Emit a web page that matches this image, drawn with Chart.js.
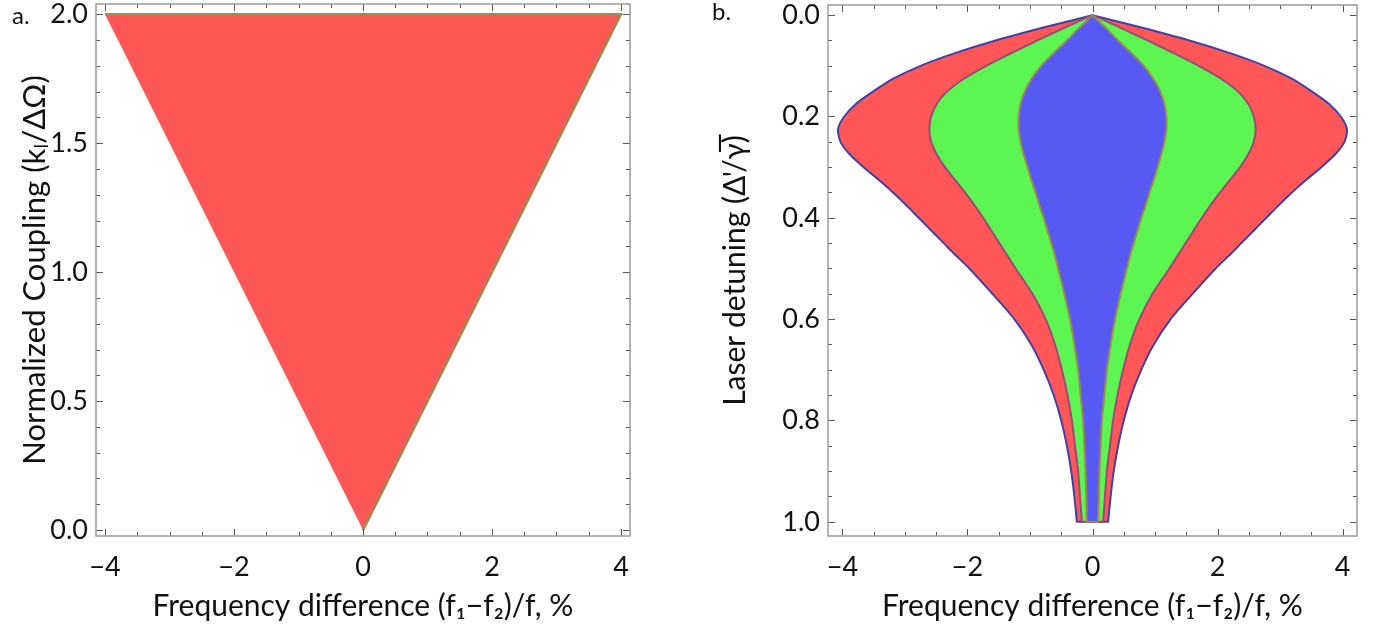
<!DOCTYPE html>
<html>
<head>
<meta charset="utf-8">
<script src="https://cdn.jsdelivr.net/npm/chart.js@4.4.1/dist/chart.umd.min.js"></script>
<style>
  html, body { margin: 0; padding: 0; background: #fff; }
  #wrap { position: relative; width: 1377px; height: 632px; overflow: hidden; }
  .box { position: absolute; top: 0; height: 632px; }
  #boxA { left: 0; width: 660px; }
  #boxB { left: 660px; width: 717px; }
  .tag { position: absolute; font: 24px Lato, sans-serif; color: #111; }
</style>
</head>
<body>
<div id="wrap">
  <div class="box" id="boxA"><canvas id="chA"></canvas></div>
  <div class="box" id="boxB"><canvas id="chB"></canvas></div>
  <div class="tag" style="left:12px;top:0px">a.</div>
  <div class="tag" style="left:712px;top:-4px">b.</div>
</div>
<script>
// panel a : locking region (triangle)
const triFreq = [-4, 4, 0];
const triCoupling = [2, 2, 0];

// panel b : half-widths of the three nested regions vs laser detuning
const detuning = [0, 0.025, 0.05, 0.075, 0.1, 0.125, 0.15, 0.175, 0.2, 0.225, 0.25, 0.275, 0.3,
                  0.325, 0.35, 0.375, 0.4, 0.425, 0.45, 0.475, 0.5,
                  0.55, 0.6, 0.65, 0.7, 0.75, 0.8, 0.85, 0.9, 0.95, 1.0];
const outerHalf = [0, 0.8, 1.55, 2.2, 2.75, 3.18, 3.5, 3.78, 3.97, 4.07, 4.03, 3.88, 3.66,
                   3.42, 3.19, 2.98, 2.78, 2.58, 2.38, 2.18, 1.97,
                   1.6, 1.25, 0.98, 0.78, 0.62, 0.5, 0.41, 0.34, 0.29, 0.25];
const middleHalf = [0, 0.45, 0.88, 1.3, 1.7, 2.05, 2.32, 2.49, 2.58, 2.61, 2.58, 2.49, 2.36,
                    2.2, 2.04, 1.89, 1.75, 1.62, 1.49, 1.36, 1.23,
                    0.96, 0.75, 0.6, 0.49, 0.4, 0.33, 0.28, 0.23, 0.2, 0.17];
const innerHalf = [0, 0.21, 0.41, 0.62, 0.82, 0.97, 1.08, 1.15, 1.18, 1.18, 1.15, 1.1, 1.04,
                   0.98, 0.91, 0.85, 0.78, 0.72, 0.66, 0.6, 0.55,
                   0.45, 0.36, 0.29, 0.23, 0.19, 0.15, 0.13, 0.11, 0.1, 0.09];

// tick marks
const freqMajor = [-4, -2, 0, 2, 4];
const freqMinor = [-4, -3.5, -3, -2.5, -2, -1.5, -1, -0.5, 0, 0.5, 1, 1.5, 2, 2.5, 3, 3.5, 4];
const couplingMajor = [0, 0.5, 1, 1.5, 2];
const couplingMinor = [0, 0.1, 0.2, 0.3, 0.4, 0.5, 0.6, 0.7, 0.8, 0.9, 1, 1.1, 1.2, 1.3, 1.4, 1.5, 1.6, 1.7, 1.8, 1.9, 2];
const detuningMajor = [0, 0.2, 0.4, 0.6, 0.8, 1];
const detuningMinor = [0, 0.05, 0.1, 0.15, 0.2, 0.25, 0.3, 0.35, 0.4, 0.45, 0.5, 0.55, 0.6, 0.65, 0.7, 0.75, 0.8, 0.85, 0.9, 0.95, 1];

const FONT = 'Lato, "Open Sans", sans-serif';
const INK = '#111';
const xLabel = 'Frequency difference (f\u2081\u2212f\u2082)/f, %';

// frame with inward ticks on all four sides
const frameTicks = {
  id: 'frameTicks',
  afterDatasetsDraw(chart, args, o) {
    const { ctx, chartArea: a, scales: { x, y } } = chart;
    ctx.save();
    ctx.strokeStyle = '#555';
    ctx.lineWidth = 1;
    const seg = (x0, y0, x1, y1) => { ctx.beginPath(); ctx.moveTo(x0, y0); ctx.lineTo(x1, y1); ctx.stroke(); };
    o.xMinor.forEach(v => {
      const p = Math.round(x.getPixelForValue(v)) + 0.5;
      const L = o.xMajor.includes(v) ? 7 : 4;
      seg(p, a.bottom, p, a.bottom - L);
      seg(p, a.top, p, a.top + L);
    });
    o.yMinor.forEach(v => {
      const p = Math.round(y.getPixelForValue(v)) + 0.5;
      const L = o.yMajor.includes(v) ? 7 : 4;
      seg(a.left, p, a.left + L, p);
      seg(a.right, p, a.right - L, p);
    });
    ctx.strokeStyle = '#999';
    ctx.lineWidth = 1.5;
    ctx.strokeRect(a.left, a.top, a.right - a.left, a.bottom - a.top);
    ctx.restore();
  }
};

const fmtX = v => (v < 0 ? '\u2212' + Math.abs(v) : String(v));
const noPad = s => { s.paddingTop = 0; s.paddingBottom = 0; s.paddingLeft = 0; s.paddingRight = 0; };

function axes(xMin, xMax, yMin, yMax, yStep, yTitle, yTitleSize, yTitlePad, yWidth, reverse) {
  return {
    x: {
      type: 'linear', min: xMin, max: xMax,
      grid: { display: false, drawTicks: false, tickLength: 0 },
      border: { display: false },
      ticks: { stepSize: 2, includeBounds: false, maxRotation: 0, padding: 15,
               font: { family: FONT, size: 27 }, color: INK, callback: fmtX },
      title: { display: true, text: xLabel, color: INK, font: { family: FONT, size: 30 },
               padding: { top: 0, bottom: 8 } },
      afterFit: s => { s.height = 96; noPad(s); }
    },
    y: {
      type: 'linear', min: yMin, max: yMax, reverse,
      grid: { display: false, drawTicks: false, tickLength: 0 },
      border: { display: false },
      ticks: { stepSize: yStep, includeBounds: false, padding: 8,
               font: { family: FONT, size: 27 }, color: INK, callback: v => v.toFixed(1) },
      title: { display: true, text: yTitle, color: INK, font: { family: FONT, size: yTitleSize },
               padding: { top: yTitlePad, bottom: 0 } },
      afterFit: s => { s.width = yWidth; noPad(s); }
    }
  };
}

const common = {
  responsive: true, maintainAspectRatio: false, animation: false,
  plugins: { legend: { display: false }, tooltip: { enabled: false } }
};

new Chart(document.getElementById('chA'), {
  type: 'scatter',
  data: {
    datasets: [{
      data: triFreq.map((f, i) => ({ x: f, y: triCoupling[i] })),
      showLine: true, fill: 'shape', tension: 0, pointRadius: 0,
      backgroundColor: '#ff5656', borderColor: '#9a8f52', borderWidth: 2.5
    }]
  },
  options: {
    ...common,
    layout: { padding: { top: 4, right: 30, left: 0, bottom: 0 } },
    scales: axes(-4.14, 4.14, -0.023, 2.04, 0.5, 'Normalized Coupling (k\u2097/\u0394\u03a9)', 31, 16, 96, false),
    plugins: { ...common.plugins, frameTicks: { xMajor: freqMajor, xMinor: freqMinor, yMajor: couplingMajor, yMinor: couplingMinor } }
  },
  plugins: [frameTicks]
});

// closed outline: right edge top->bottom, then left edge bottom->top
const ring = half => {
  const right = detuning.map((d, i) => ({ x: half[i], y: d }));
  const left = detuning.map((d, i) => ({ x: -half[i], y: d })).reverse();
  // bottom corners repeated so the spline keeps them sharp
  return [...right, right[right.length - 1], left[0], ...left];
};
const region = (half, fillColor, lineColor) => ({
  data: ring(half), showLine: true, fill: 'shape', tension: 0.25, pointRadius: 0,
  backgroundColor: fillColor, borderColor: lineColor, borderWidth: 2
});

new Chart(document.getElementById('chB'), {
  type: 'scatter',
  data: {
    datasets: [
      region(innerHalf, '#5659f2', '#9a8a4e'),
      region(middleHalf, '#5cf552', '#9c4a78'),
      region(outerHalf, '#ff5757', '#4141a6')
    ]
  },
  options: {
    ...common,
    layout: { padding: { top: 5, right: 20, left: 0, bottom: 0 } },
    scales: axes(-4.23, 4.23, -0.02, 1.028, 0.2, "Laser detuning (\u0394'/\u03b3\u0305)", 30, 57, 168, true),
    plugins: { ...common.plugins, frameTicks: { xMajor: freqMajor, xMinor: freqMinor, yMajor: detuningMajor, yMinor: detuningMinor } }
  },
  plugins: [frameTicks]
});
</script>
</body>
</html>
